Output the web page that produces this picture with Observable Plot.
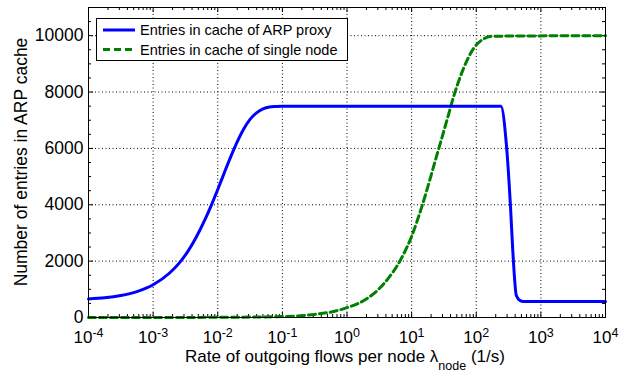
<!DOCTYPE html>
<html><head><meta charset="utf-8">
<script src="https://cdn.jsdelivr.net/npm/d3@7"></script>
<script src="https://cdn.jsdelivr.net/npm/@observablehq/plot@0.6"></script>
<style>
body{margin:0;background:#fff;}
svg{font-family:"Liberation Sans",Arial,Helvetica,sans-serif;}
</style></head><body><div id="chart"></div>
<script>
// ---- data ----
const xTicks = [1e-4, 1e-3, 1e-2, 1e-1, 1, 1e1, 1e2, 1e3, 1e4];
const xTickExponents = ["-4", "-3", "-2", "-1", "0", "1", "2", "3", "4"];
const yTicks = [0, 2000, 4000, 6000, 8000, 10000];
const yMinorTicks = [500, 1000, 1500, 2500, 3000, 3500, 4500, 5000, 5500, 6500, 7000, 7500, 8500, 9000, 9500, 10500];
const xMinorMultipliers = [2, 3, 4, 5, 6, 7, 8, 9];

const seriesNames = ["Entries in cache of ARP proxy", "Entries in cache of single node"];

const proxyRate = [1e-4, 1.78e-4, 3.16e-4, 5.62e-4, 1e-3, 1.78e-3, 2.51e-3, 3.55e-3, 4.57e-3, 6.31e-3, 7.94e-3, 0.01, 0.0126, 0.0158, 0.02, 0.0251, 0.0316, 0.0398, 0.0501, 0.0631, 0.0794, 0.1, 240, 292, 337, 370, 417, 479, 537, 1e4];
const proxyEntries = [660, 700, 780, 920, 1160, 1570, 1920, 2390, 2820, 3460, 3980, 4540, 5130, 5690, 6230, 6680, 7030, 7260, 7400, 7470, 7490, 7500, 7500, 6160, 4030, 2260, 780, 600, 570, 570];

const nodeRate = [1e-4, 1e-3, 0.01, 0.1, 0.316, 0.692, 1, 1.82, 3.72, 6.76, 10, 14.5, 24.5, 35.5, 44.7, 63.1, 91.2, 129, 178, 1e4];
const nodeEntries = [0, 2, 6, 35, 110, 240, 350, 600, 1200, 2050, 2880, 3960, 5750, 7030, 7840, 8820, 9550, 9880, 9980, 10000];

// ---- layout ----
const W = 629, H = 375;
const mL = 88, mR = 24, mT = 7, mB = 58;
const frameH = H - mT - mB, frameW = W - mL - mR;
const majorLen = 5, minorLen = 3;
const blue = "#0000ff", green = "#008000";
const greenDash = "7,4";

const proxy = proxyRate.map((r, i) => ({rate: r, entries: proxyEntries[i]}));
const node = nodeRate.map((r, i) => ({rate: r, entries: nodeEntries[i]}));
const xMinor = [];
for (let k = 0; k < xTicks.length - 1; k++) for (const m of xMinorMultipliers) xMinor.push(m * xTicks[k]);

const grid = {stroke: "#000", strokeOpacity: 1, strokeWidth: 1, strokeDasharray: "1,2.5"};

const chart = Plot.plot({
  width: W, height: H,
  marginLeft: mL, marginRight: mR, marginTop: mT, marginBottom: mB,
  style: {background: "white", fontFamily: '"Liberation Sans", Arial, sans-serif', overflow: "visible"},
  x: {type: "log", domain: [1e-4, 1e4]},
  y: {domain: [0, 11000]},
  marks: [
    Plot.gridX(xTicks.slice(1, -1), grid),
    Plot.gridY(yTicks.slice(1), grid),
    // inward ticks bottom/top
    Plot.tickX(xTicks, {x: d => d, insetTop: frameH - majorLen, stroke: "#000"}),
    Plot.tickX(xTicks, {x: d => d, insetBottom: frameH - majorLen, stroke: "#000"}),
    Plot.tickX(xMinor, {x: d => d, insetTop: frameH - minorLen, stroke: "#000"}),
    Plot.tickX(xMinor, {x: d => d, insetBottom: frameH - minorLen, stroke: "#000"}),
    // inward ticks left/right
    Plot.tickY(yTicks, {y: d => d, insetRight: frameW - majorLen, stroke: "#000"}),
    Plot.tickY(yTicks, {y: d => d, insetLeft: frameW - majorLen, stroke: "#000"}),
    Plot.tickY(yMinorTicks, {y: d => d, insetRight: frameW - minorLen, stroke: "#000"}),
    Plot.tickY(yMinorTicks, {y: d => d, insetLeft: frameW - minorLen, stroke: "#000"}),
    Plot.axisX({ticks: xTicks, tickSize: 0, tickPadding: 13, fontSize: 17, label: null,
      tickFormat: d => xTickExponents[xTicks.findIndex(t => Math.abs(t - d) / t < 1e-9)], fill: "#000"}),
    Plot.axisY({ticks: yTicks, tickSize: 0, tickPadding: 5, fontSize: 17.5, label: null,
      tickFormat: d3.format("d"), fill: "#000"}),
    Plot.line(node, {x: "rate", y: "entries", stroke: green, strokeWidth: 3, strokeDasharray: greenDash, curve: "monotone-x"}),
    Plot.line(proxy, {x: "rate", y: "entries", stroke: blue, strokeWidth: 3, curve: "monotone-x"}),
    Plot.frame({stroke: "#000", strokeWidth: 1})
  ]
});
document.getElementById("chart").appendChild(chart);

const svg = d3.select(chart);
// superscript exponents on x tick labels
svg.selectAll('g[aria-label="x-axis tick label"] text').each(function () {
  const e = this.textContent;
  const t = d3.select(this);
  t.text(null);
  t.append("tspan").text("10");
  t.append("tspan").attr("dy", "-0.45em").attr("font-size", "12.5px").text(e);
});

// axis labels
svg.append("text")
  .attr("x", 345).attr("y", 361.5)
  .attr("text-anchor", "middle").attr("font-size", "17px").attr("fill", "#000")
  .call(t => {
    t.append("tspan").text("Rate of outgoing flows per node λ");
    t.append("tspan").attr("dy", 8).attr("font-size", "12.5px").text("node");
    t.append("tspan").attr("dy", -8).text(" (1/s)");
  });
svg.append("text")
  .attr("transform", `translate(26.5,${mT + frameH / 2}) rotate(-90)`)
  .attr("text-anchor", "middle").attr("font-size", "17.5px").attr("fill", "#000")
  .text("Number of entries in ARP cache");

// legend box
const lg = svg.append("g").attr("text-anchor", "start");
lg.append("rect").attr("x", 96.5).attr("y", 18.5).attr("width", 251).attr("height", 42)
  .attr("fill", "#fff").attr("stroke", "#000").attr("stroke-width", 1);
const rows = [{y: 30, color: blue, dash: null}, {y: 49.5, color: green, dash: greenDash}];
rows.forEach((r, i) => {
  lg.append("line").attr("x1", 103).attr("x2", 135).attr("y1", r.y).attr("y2", r.y)
    .attr("stroke", r.color).attr("stroke-width", 3).attr("stroke-dasharray", r.dash);
  lg.append("text").attr("x", 140).attr("y", r.y + 5).attr("font-size", "14.5px").attr("fill", "#000")
    .attr("text-anchor", "start").text(seriesNames[i]);
});
</script>
</body></html>
